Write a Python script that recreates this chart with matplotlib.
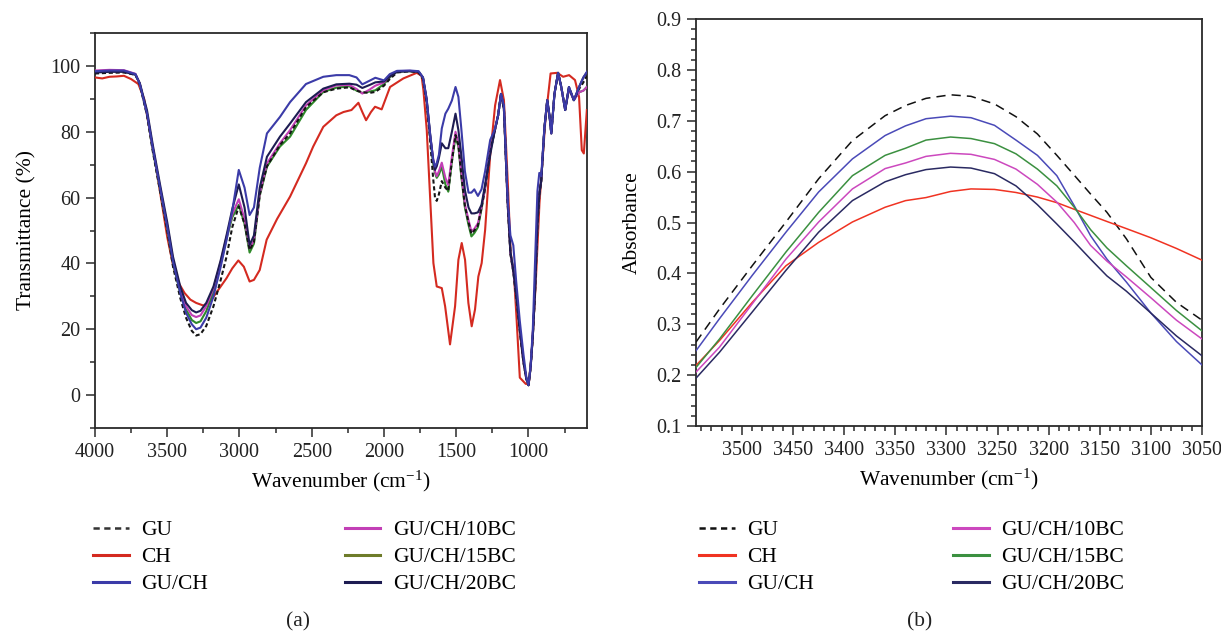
import numpy as np
import matplotlib
matplotlib.use("Agg")
import matplotlib.pyplot as plt
from matplotlib.ticker import MultipleLocator, FixedLocator, FormatStrFormatter
from matplotlib.lines import Line2D

plt.rcParams['font.family'] = ['Liberation Serif', 'DejaVu Serif']
plt.rcParams['mathtext.fontset'] = 'custom'
plt.rcParams['mathtext.rm'] = 'Liberation Serif'
plt.rcParams['mathtext.it'] = 'Liberation Serif:italic'

# ---------- panel (a): FTIR transmittance ----------
wn_a = [4000, 3900, 3800, 3720, 3690, 3640, 3600, 3550, 3500, 3460, 3410, 3370, 3330, 3300,
        3270, 3230, 3180, 3130, 3090, 3050, 3005, 2965, 2930, 2900, 2860, 2810, 2720, 2650,
        2540, 2420, 2330, 2240, 2190, 2150, 2100, 2060, 2000, 1960, 1910, 1820, 1760, 1730,
        1705, 1680, 1660, 1647, 1635, 1620, 1600, 1575, 1555, 1530, 1505, 1485, 1465, 1440,
        1415, 1395, 1375, 1350, 1325, 1300, 1265, 1235, 1210, 1190, 1170, 1145, 1125, 1105,
        1085, 1060, 1035, 1015, 1000, 985, 970, 955, 938, 925, 912, 890, 870, 855, 842, 820,
        795, 773, 746, 720, 686, 650, 620, 596]

t_gu = [97.7, 97.9, 98.0, 97.3, 94.3, 85.0, 74.0, 62.0, 50.0, 39.0, 29.5, 23.5, 19.5, 18.1,
        18.5, 21.0, 27.0, 35.0, 42.0, 51.0, 57.3, 52.0, 44.1, 46.5, 61.0, 69.5, 76.0, 79.5,
        87.5, 92.0, 93.1, 93.5, 92.5, 92.0, 91.8, 92.1, 94.0, 96.0, 98.0, 98.4, 98.0, 96.0,
        89.0, 77.0, 66.0, 60.0, 59.0, 61.0, 65.0, 63.0, 62.0, 71.0, 79.0, 76.0, 67.0, 57.5,
        52.5, 49.0, 50.0, 51.5, 57.0, 63.0, 74.0, 80.0, 85.0, 91.5, 87.0, 59.0, 43.0, 37.5,
        30.0, 19.5, 10.0, 5.0, 3.0, 8.5, 18.0, 31.0, 52.0, 61.0, 65.0, 81.0, 89.6, 85.0, 79.5, 91.6,
        97.9, 93.6, 86.6, 93.5, 89.6, 93.0, 95.0, 97.0]

t_guch = [98.4, 98.6, 98.6, 97.5, 94.5, 85.5, 75.0, 63.0, 51.0, 40.5, 31.0, 25.0, 21.5, 20.0,
          20.5, 23.5, 30.0, 39.0, 47.0, 56.0, 68.4, 63.0, 54.7, 57.0, 69.0, 79.5, 84.5, 89.0,
          94.5, 96.7, 97.2, 97.2, 96.5, 94.4, 95.5, 96.4, 95.6, 97.5, 98.5, 98.6, 98.4, 96.5,
          90.0, 79.0, 71.5, 69.4, 70.5, 73.0, 81.0, 85.5, 87.0, 89.5, 93.6, 90.6, 81.0, 68.0,
          61.5, 61.5, 62.5, 60.5, 62.5, 68.0, 77.5, 80.5, 85.0, 91.5, 88.0, 60.0, 48.5, 45.5,
          34.5, 22.5, 12.5, 5.5, 3.0, 9.0, 20.0, 40.0, 62.0, 67.5, 66.5, 81.0, 89.6, 85.0, 79.5, 91.6,
          97.9, 93.6, 86.6, 93.6, 89.6, 93.6, 96.5, 98.2]

t_10bc = [98.6, 98.8, 98.7, 97.6, 94.6, 85.5, 75.0, 63.0, 51.5, 41.0, 32.0, 27.0, 24.3, 23.7,
          24.2, 27.0, 32.5, 40.5, 48.0, 55.0, 59.5, 53.5, 44.6, 47.0, 61.0, 70.4, 76.5, 80.5,
          88.0, 92.6, 94.1, 94.2, 93.0, 91.6, 92.8, 94.0, 95.0, 96.8, 98.4, 98.5, 98.2, 96.3,
          89.5, 78.5, 72.0, 68.0, 66.5, 68.0, 70.6, 66.0, 63.8, 72.4, 80.0, 76.5, 68.0, 58.0,
          53.2, 49.7, 50.5, 52.2, 57.0, 63.0, 74.4, 80.0, 85.0, 91.5, 87.0, 59.0, 43.0, 37.5,
          30.0, 19.5, 10.0, 5.0, 3.0, 8.5, 18.0, 31.0, 52.0, 61.0, 65.0, 81.0, 89.6, 85.0, 79.5, 91.6,
          97.9, 93.6, 86.6, 93.0, 89.6, 92.0, 92.5, 93.6]

t_15bc = [98.2, 98.4, 98.4, 97.5, 94.5, 85.3, 74.5, 62.5, 50.5, 40.0, 31.0, 26.0, 22.8, 21.9,
          22.4, 25.5, 31.5, 40.0, 47.5, 54.0, 57.8, 52.0, 43.3, 46.0, 60.5, 69.4, 75.5, 78.5,
          86.6, 92.1, 93.4, 93.8, 92.5, 91.8, 92.2, 92.6, 94.5, 96.5, 98.3, 98.4, 98.2, 96.3,
          89.5, 78.5, 70.5, 67.5, 66.0, 67.0, 69.4, 64.0, 61.8, 71.0, 78.5, 75.5, 66.5, 57.0,
          51.7, 48.2, 49.2, 51.0, 56.5, 63.0, 74.0, 80.0, 85.0, 91.5, 87.0, 59.0, 43.0, 37.5,
          30.0, 19.5, 10.0, 5.0, 3.0, 8.5, 18.0, 31.0, 52.0, 61.0, 65.0, 81.0, 89.6, 85.0, 79.5, 91.6,
          97.9, 93.6, 86.6, 93.0, 89.6, 92.0, 92.5, 93.6]

t_20bc = [98.0, 98.2, 98.2, 97.3, 94.8, 86.5, 76.0, 64.0, 52.5, 42.0, 33.0, 28.0, 25.8, 25.1,
          25.6, 28.0, 33.0, 41.0, 48.5, 56.5, 64.0, 57.0, 45.6, 48.5, 63.0, 72.4, 78.5, 82.5,
          89.0, 93.1, 94.4, 94.6, 94.3, 93.3, 94.2, 95.0, 95.3, 96.8, 98.2, 98.4, 98.2, 96.5,
          90.0, 79.0, 71.5, 68.4, 69.5, 72.0, 76.5, 75.0, 75.0, 80.0, 85.5, 80.5, 73.0, 62.3,
          57.0, 55.2, 55.2, 55.5, 57.8, 64.0, 73.0, 80.0, 85.0, 91.5, 87.0, 60.0, 43.5, 38.0,
          30.5, 20.0, 10.5, 5.0, 3.0, 8.5, 18.0, 31.0, 52.0, 61.0, 65.0, 81.0, 89.6, 85.0, 79.5, 91.6,
          97.9, 93.6, 86.6, 93.6, 89.6, 93.6, 96.5, 98.0]

wn_ch = [4000, 3950, 3900, 3850, 3800, 3750, 3700, 3660, 3620, 3580, 3540, 3500, 3460, 3420,
         3380, 3340, 3300, 3250, 3200, 3170, 3130, 3090, 3050, 3008, 2970, 2930, 2900, 2860,
         2812, 2740, 2650, 2540, 2490, 2420, 2330, 2280, 2225, 2177, 2150, 2124, 2090, 2062,
         2016, 1958, 1866, 1773, 1740, 1727, 1704, 1681, 1658, 1635, 1600, 1577, 1543, 1508,
         1485, 1462, 1439, 1416, 1393, 1370, 1347, 1324, 1300, 1266, 1231, 1197, 1170, 1142,
         1123, 1101, 1082, 1060, 1019, 998, 978, 951, 924, 883, 847, 801, 760, 719, 678, 650,
         631, 617, 596]
t_ch = [96.5, 96.2, 96.7, 96.8, 97.0, 96.0, 94.5, 90.0, 80.0, 70.0, 59.0, 48.0, 39.5, 34.0,
        31.0, 29.0, 28.0, 27.2, 28.5, 30.5, 33.0, 35.5, 38.5, 40.9, 39.0, 34.5, 35.0, 38.0,
        47.2, 53.5, 60.3, 70.4, 75.5, 81.5, 85.0, 86.0, 86.6, 88.8, 86.0, 83.5, 86.0, 87.6,
        86.8, 93.6, 96.2, 97.9, 97.0, 92.6, 80.5, 60.3, 40.1, 33.0, 32.5, 27.0, 15.4, 27.0,
        41.1, 46.2, 41.1, 28.0, 20.9, 26.0, 36.0, 40.1, 50.2, 72.4, 88.0, 95.7, 89.6, 63.3,
        43.1, 37.0, 22.9, 5.3, 3.4, 3.4, 12.8, 33.0, 58.3, 83.5, 97.7, 97.9, 96.7, 97.2, 95.7, 90.6,
        74.4, 73.4, 86.6]

# ---------- panel (b): absorbance, 3545-3050 cm-1 ----------
wn_b = [3545, 3522, 3490, 3457, 3425, 3392, 3360, 3340, 3320, 3296, 3276, 3253, 3232, 3211,
        3192, 3175, 3159, 3143, 3124, 3100, 3075, 3050]
a_gu = [0.265, 0.330, 0.415, 0.501, 0.586, 0.661, 0.710, 0.730, 0.744, 0.751, 0.748, 0.733,
        0.708, 0.674, 0.632, 0.593, 0.556, 0.520, 0.468, 0.392, 0.343, 0.308]
a_ch = [0.219, 0.268, 0.343, 0.415, 0.461, 0.501, 0.530, 0.543, 0.549, 0.561, 0.566, 0.565,
        0.559, 0.550, 0.539, 0.526, 0.514, 0.502, 0.488, 0.470, 0.449, 0.426]
a_guch = [0.248, 0.311, 0.396, 0.481, 0.560, 0.625, 0.671, 0.690, 0.704, 0.709, 0.706, 0.691,
          0.662, 0.632, 0.592, 0.533, 0.474, 0.428, 0.383, 0.322, 0.266, 0.220]
a_10bc = [0.206, 0.255, 0.340, 0.428, 0.501, 0.566, 0.606, 0.617, 0.630, 0.636, 0.634, 0.624,
          0.605, 0.575, 0.540, 0.500, 0.455, 0.424, 0.393, 0.352, 0.308, 0.271]
a_15bc = [0.215, 0.271, 0.356, 0.442, 0.520, 0.592, 0.632, 0.646, 0.662, 0.668, 0.665, 0.655,
          0.635, 0.605, 0.572, 0.530, 0.486, 0.450, 0.415, 0.372, 0.327, 0.287]
a_20bc = [0.194, 0.245, 0.324, 0.406, 0.481, 0.543, 0.580, 0.594, 0.604, 0.609, 0.607, 0.596,
          0.572, 0.535, 0.497, 0.462, 0.428, 0.395, 0.365, 0.322, 0.277, 0.238]

labels = ["GU", "CH", "GU/CH", "GU/CH/10BC", "GU/CH/15BC", "GU/CH/20BC"]
colors_a = ["#151515", "#d42a20", "#3b3ba8", "#c23fb6", "#2f8a2a", "#1d1c52"]
legend_a = ["#333333", "#d42a20", "#3b3ba8", "#c23fb6", "#6e7c2a", "#1d1c52"]
colors_b = ["#111111", "#f03322", "#4a4ab8", "#cc48be", "#3b9040", "#2a2a62"]

fig = plt.figure(figsize=(12.21, 6.31), dpi=100)
W, H = 1221, 631
ax1 = fig.add_axes([95 / W, 1 - 428 / H, (587 - 95) / W, (428 - 33) / H])
ax2 = fig.add_axes([696 / W, 1 - 426 / H, (1202 - 696) / W, (426 - 19) / H])

series_a = [(wn_a, t_gu), (wn_ch, t_ch), (wn_a, t_guch), (wn_a, t_10bc), (wn_a, t_15bc), (wn_a, t_20bc)]
draw_order = [1, 4, 3, 0, 5, 2]
for i in draw_order:
    x, y = series_a[i]
    ls = (0, (2.0, 1.3)) if i == 0 else '-'
    ax1.plot(x, y, color=colors_a[i], lw=1.5, ls=ls, zorder=3)

series_b = [a_gu, a_ch, a_guch, a_10bc, a_15bc, a_20bc]
for i, y in enumerate(series_b):
    ls = (0, (6, 4)) if i == 0 else '-'
    ax2.plot(wn_b, y, color=colors_b[i], lw=1.1, ls=ls, zorder=3)

# axes styling
for ax in (ax1, ax2):
    for sp in ax.spines.values():
        sp.set_color("#2a2a2a")
        sp.set_linewidth(1.3)
    ax.tick_params(which='both', direction='out', top=False, right=False,
                   labelsize=14.5, colors="#2a2a2a", width=1.1)
    ax.tick_params(which='major', length=6.5, pad=4)
    ax.tick_params(which='minor', length=3.3)
    for lab in ax.get_xticklabels() + ax.get_yticklabels():
        lab.set_color("#222222")

ax1.set_xlim(4000, 595)
ax1.set_ylim(-10, 110)
ax1.xaxis.set_major_locator(MultipleLocator(500))
ax1.xaxis.set_minor_locator(MultipleLocator(250))
ax1.yaxis.set_major_locator(MultipleLocator(20))
ax1.yaxis.set_minor_locator(MultipleLocator(10))
ax1.set_xlabel("Wavenumber (cm$^{-1}$)", fontsize=15.5, labelpad=5)
ax1.set_ylabel("Transmittance (%)", fontsize=15.5, labelpad=10)

ax2.set_xlim(3545, 3050)
ax2.set_ylim(0.1, 0.9)
ax2.xaxis.set_major_locator(FixedLocator([3500, 3450, 3400, 3350, 3300, 3250, 3200, 3150, 3100, 3050]))
ax2.xaxis.set_minor_locator(MultipleLocator(10))
ax2.yaxis.set_major_locator(MultipleLocator(0.1))
ax2.yaxis.set_minor_locator(MultipleLocator(0.02))
ax2.yaxis.set_major_formatter(FormatStrFormatter('%.1f'))
ax2.set_xlabel("Wavenumber (cm$^{-1}$)", fontsize=15.5, labelpad=5)
ax2.set_ylabel("Absorbance", fontsize=15.5, labelpad=10)

# legends below each panel
def make_handles(cols, dash):
    hs = []
    for i, c in enumerate(cols):
        ls = dash if i == 0 else '-'
        hs.append(Line2D([0], [0], color=c, lw=2.2 if i else 1.8, ls=ls))
    return hs

fig.legend(make_handles(legend_a, (0, (2.5, 1.8))), labels, loc='upper left',
           bbox_to_anchor=(93 / W, 1 - 520 / H), ncol=2, frameon=False, fontsize=15.5,
           handlelength=1.65, handletextpad=0.6, columnspacing=6.35, labelspacing=0.33,
           borderpad=0, borderaxespad=0)
fig.legend(make_handles(colors_b, (0, (2.5, 1.8))), labels, loc='upper left',
           bbox_to_anchor=(699 / W, 1 - 520 / H), ncol=2, frameon=False, fontsize=15.5,
           handlelength=1.65, handletextpad=0.6, columnspacing=6.45, labelspacing=0.33,
           borderpad=0, borderaxespad=0)

fig.text(298 / W, 1 - 622 / H, "(a)", ha='center', va='center', fontsize=15.5, color="#222222")
fig.text(920 / W, 1 - 622 / H, "(b)", ha='center', va='center', fontsize=15.5, color="#222222")

fig.savefig("out.png", dpi=100)
